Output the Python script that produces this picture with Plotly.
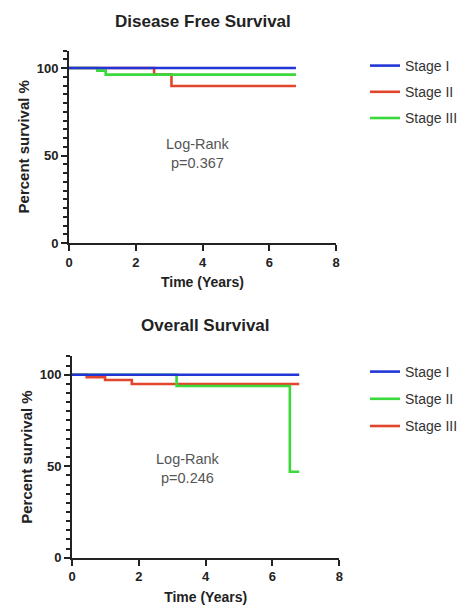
import plotly.graph_objects as go

# ---- data ----
stages_dfs = ["Stage I", "Stage II", "Stage III"]
dfs_time_I = [0, 6.8]
dfs_surv_I = [100, 100]
dfs_time_II = [0, 2.55, 3.07, 6.8]
dfs_surv_II = [100, 96.2, 89.7, 89.7]
dfs_time_III = [0, 0.85, 1.1, 6.8]
dfs_surv_III = [100, 98.5, 96.2, 96.2]

stages_os = ["Stage I", "Stage II", "Stage III"]
os_time_I = [0, 6.8]
os_surv_I = [100, 100]
os_time_II = [0, 3.13, 6.52, 6.8]
os_surv_II = [100, 93.8, 47, 47]
os_time_III = [0, 0.44, 0.99, 1.79, 6.8]
os_surv_III = [100, 98.6, 97.1, 94.9, 94.9]

x_ticks = [0, 2, 4, 6, 8]
y_ticks = [0, 50, 100]

BLUE = "#2236d8"
RED = "#e2452c"
GREEN = "#3ad83a"

fig = go.Figure()

def add(x, y, name, color, xa, ya, legend, rank, group):
    fig.add_trace(go.Scatter(
        x=x, y=y, name=name, mode="lines", line=dict(color=color, width=2.6, shape="hv"),
        xaxis=xa, yaxis=ya, legend=legend, legendrank=rank, legendgroup=group,
        hoverinfo="skip"))

# top (drawn so Stage I sits on top)
add(dfs_time_II, dfs_surv_II, stages_dfs[1], RED, "x", "y", "legend", 2, "a2")
add(dfs_time_III, dfs_surv_III, stages_dfs[2], GREEN, "x", "y", "legend", 3, "a3")
add(dfs_time_I, dfs_surv_I, stages_dfs[0], BLUE, "x", "y", "legend", 1, "a1")
# bottom
add(os_time_III, os_surv_III, stages_os[2], RED, "x2", "y2", "legend2", 3, "b3")
add(os_time_II, os_surv_II, stages_os[1], GREEN, "x2", "y2", "legend2", 2, "b2")
add(os_time_I, os_surv_I, stages_os[0], BLUE, "x2", "y2", "legend2", 1, "b1")

# page has an 8px body margin: figure is placed at (8, 8)
PAGE_W, PAGE_H, OFF = 465, 612, 8
W, H = PAGE_W - OFF, PAGE_H - OFF

def px(x):
    return (x - OFF) / W

def py(y):
    return 1 - (y - OFF) / H

tickfont = dict(family="Liberation Sans, Arial", size=13, color="#222", weight="bold")
titlefont = dict(family="Liberation Sans, Arial", size=14, color="#222", weight="bold")

def xaxis(domain, anchor):
    return dict(domain=domain, anchor=anchor, range=[0, 8], tickvals=x_ticks,
                showline=True, linecolor="#222", linewidth=2, ticks="outside",
                ticklen=6, tickwidth=2, tickcolor="#222", tickfont=tickfont,
                showgrid=False, zeroline=False, fixedrange=True, automargin=False,
                title=dict(text="Time (Years)", font=titlefont, standoff=9))

def yaxis(domain, anchor):
    return dict(domain=domain, anchor=anchor, range=[0, 110], tickvals=y_ticks,
                showline=True, linecolor="#222", linewidth=2, ticks="outside",
                ticklen=6, tickwidth=2, tickcolor="#222", tickfont=tickfont,
                minor=dict(dtick=5, ticks="outside", ticklen=4, tickwidth=1.5, tickcolor="#222"),
                showgrid=False, zeroline=False, fixedrange=True, automargin=False,
                title=dict(text="Percent survival %", font=dict(titlefont, size=15), standoff=3))

legfont = dict(family="Liberation Sans, Arial", size=14, color="#333")
titlef = dict(family="Liberation Sans, Arial", size=17, color="#222", weight="bold")
annf = dict(family="Liberation Sans, Arial", size=14.5, color="#555")

fig.update_layout(
    width=W, height=H, margin=dict(l=0, r=0, t=0, b=0, autoexpand=False),
    paper_bgcolor="white", plot_bgcolor="white",
    xaxis=xaxis([px(69), px(336)], "y"),
    yaxis=yaxis([py(243), py(50.5)], "x"),
    xaxis2=xaxis([px(72), px(339.3)], "y2"),
    yaxis2=yaxis([py(557.7), py(356.4)], "x2"),
    legend=dict(x=px(365), y=py(50), xanchor="left", yanchor="top",
                font=legfont, tracegroupgap=5, bgcolor="rgba(0,0,0,0)"),
    legend2=dict(x=px(365), y=py(356), xanchor="left", yanchor="top",
                 font=legfont, tracegroupgap=6, bgcolor="rgba(0,0,0,0)"),
    annotations=[
        dict(text="Disease Free Survival", x=px(203), y=py(21), xref="paper", yref="paper",
             xanchor="center", yanchor="middle", showarrow=False, font=titlef),
        dict(text="Overall Survival", x=px(205), y=py(325), xref="paper", yref="paper",
             xanchor="center", yanchor="middle", showarrow=False, font=titlef),
        dict(text="Log-Rank<br>p=0.367", x=3.86, y=51, xref="x", yref="y", showarrow=False,
             xanchor="center", yanchor="middle", font=annf),
        dict(text="Log-Rank<br>p=0.246", x=3.47, y=49, xref="x2", yref="y2", showarrow=False,
             xanchor="center", yanchor="middle", font=annf),
    ],
)

fig.write_html("out.html")
